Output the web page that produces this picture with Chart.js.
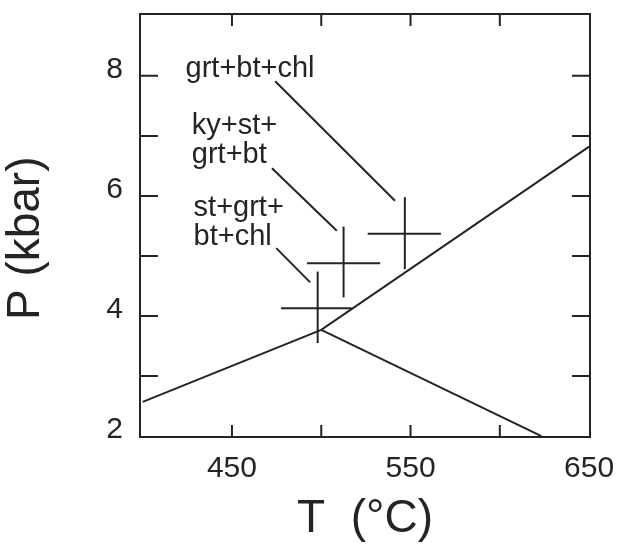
<!DOCTYPE html>
<html>
<head>
<meta charset="utf-8">
<script src="https://cdn.jsdelivr.net/npm/chart.js@4.4.0/dist/chart.umd.min.js"></script>
<style>
  html, body { margin: 0; padding: 0; background: #fff; }
</style>
</head>
<body>
<canvas id="grafico" width="618" height="545"></canvas>
<script>
// axis ticks (only some of them get a label)
const xTicks = [400, 450, 500, 550, 600, 650];
const xLabels = [450, 550, 650];
const yTicks = [2, 3, 4, 5, 6, 7, 8, 9];
const yLabels = [2, 4, 6, 8];

// reaction curves (T in °C, P in kbar)
const curveAT = [400, 500, 650];
const curveAP = [2.57, 3.77, 6.82];
const curveBT = [500, 623.3];
const curveBP = [3.77, 2.0];

// P-T estimates with their error bars
const sampleT = [498, 512.5, 546.8];
const sampleP = [4.13, 4.88, 5.37];
const sampleTmin = [477.5, 492, 526];
const sampleTmax = [517, 533, 567];
const samplePmin = [3.55, 4.31, 4.78];
const samplePmax = [4.74, 5.49, 5.98];

// assemblage labels and their leader lines
const labels = [['grt+bt+chl'], ['ky+st+', 'grt+bt'], ['st+grt+', 'bt+chl']];
const labelT = [424, 427.5, 428.5];
const labelP = [7.98, 7.03, 5.67];
const leaderT0 = [474.2, 472.4, 474.8];
const leaderP0 = [7.91, 6.46, 5.13];
const leaderT1 = [541.3, 508.7, 493.8];
const leaderP1 = [5.92, 5.42, 4.56];

const ink = '#242424';
const fontFamily = '"Liberation Sans", Arial, Helvetica, sans-serif';

function lineSet(xs, ys) {
  return {
    data: xs.map((x, i) => ({ x, y: ys[i] })),
    showLine: true,
    borderColor: ink,
    borderWidth: 2,
    pointRadius: 0
  };
}

const datasets = [lineSet(curveAT, curveAP), lineSet(curveBT, curveBP)];
sampleT.forEach((t, i) => {
  datasets.push(lineSet([sampleTmin[i], sampleTmax[i]], [sampleP[i], sampleP[i]]));
  datasets.push(lineSet([t, t], [samplePmin[i], samplePmax[i]]));
});
leaderT0.forEach((t, i) => {
  datasets.push(lineSet([t, leaderT1[i]], [leaderP0[i], leaderP1[i]]));
});

// box, inward ticks on all four sides, and the assemblage labels
const framePlugin = {
  id: 'frame',
  afterDatasetsDraw(chart) {
    const { ctx, chartArea: a, scales: { x, y } } = chart;
    ctx.save();
    ctx.strokeStyle = ink;
    ctx.lineWidth = 2;
    ctx.strokeRect(a.left, a.top, a.right - a.left, a.bottom - a.top);

    ctx.beginPath();
    x.ticks.forEach(t => {
      const px = x.getPixelForValue(t.value);
      if (px - a.left < 4 || a.right - px < 4) return;
      ctx.moveTo(px, a.bottom); ctx.lineTo(px, a.bottom - 12);
      ctx.moveTo(px, a.top); ctx.lineTo(px, a.top + 12);
    });
    y.ticks.forEach(t => {
      const py = y.getPixelForValue(t.value);
      if (py - a.top < 4 || a.bottom - py < 4) return;
      ctx.moveTo(a.left, py); ctx.lineTo(a.left + 18, py);
      ctx.moveTo(a.right, py); ctx.lineTo(a.right - 18, py);
    });
    ctx.stroke();

    ctx.fillStyle = ink;
    ctx.font = '29px ' + fontFamily;
    ctx.textAlign = 'left';
    ctx.textBaseline = 'alphabetic';
    labels.forEach((lines, i) => {
      const px = x.getPixelForValue(labelT[i]);
      const py = y.getPixelForValue(labelP[i]);
      lines.forEach((txt, j) => ctx.fillText(txt, px, py + j * 29));
    });
    ctx.restore();
  }
};

new Chart(document.getElementById('grafico'), {
  type: 'scatter',
  data: { datasets },
  plugins: [framePlugin],
  options: {
    responsive: false,
    animation: false,
    layout: { padding: { top: 14, right: 28, left: 0, bottom: 0 } },
    plugins: { legend: { display: false }, tooltip: { enabled: false } },
    scales: {
      x: {
        type: 'linear',
        min: 398.5,
        max: 650.5,
        afterBuildTicks: s => { s.ticks = xTicks.map(v => ({ value: v })); },
        // fixed axis box, and no extra room for the end labels
        afterFit: s => { s.height = 108; s.paddingLeft = 0; s.paddingRight = 0; },
        grid: { display: false, drawTicks: false },
        border: { display: false },
        ticks: {
          autoSkip: false,
          maxRotation: 0,
          padding: 14,
          color: ink,
          font: { family: fontFamily, size: 30 },
          callback: v => xLabels.includes(v) ? String(v) : ''
        },
        title: {
          display: true,
          text: 'T  (°C)',
          color: ink,
          font: { family: fontFamily, size: 46, lineHeight: 1 },
          padding: { top: 0, bottom: 3 }
        }
      },
      y: {
        type: 'linear',
        min: 1.985,
        max: 9.03,
        afterBuildTicks: s => { s.ticks = yTicks.map(v => ({ value: v })); },
        afterFit: s => { s.width = 140; s.paddingTop = 0; s.paddingBottom = 0; },
        grid: { display: false, drawTicks: false },
        border: { display: false },
        ticks: {
          autoSkip: false,
          padding: 17,
          color: ink,
          font: { family: fontFamily, size: 30, lineHeight: 0.4 },
          // second empty line lifts the number a little above its tick
          callback: v => yLabels.includes(v) ? [String(v), ''] : ''
        },
        title: {
          display: true,
          // trailing spaces push the rotated title a bit lower, as in the original
          text: 'P (kbar)  ',
          color: ink,
          font: { family: fontFamily, size: 46, lineHeight: 1 },
          padding: { top: 3, bottom: 0 }
        }
      }
    }
  }
});
</script>
</body>
</html>
